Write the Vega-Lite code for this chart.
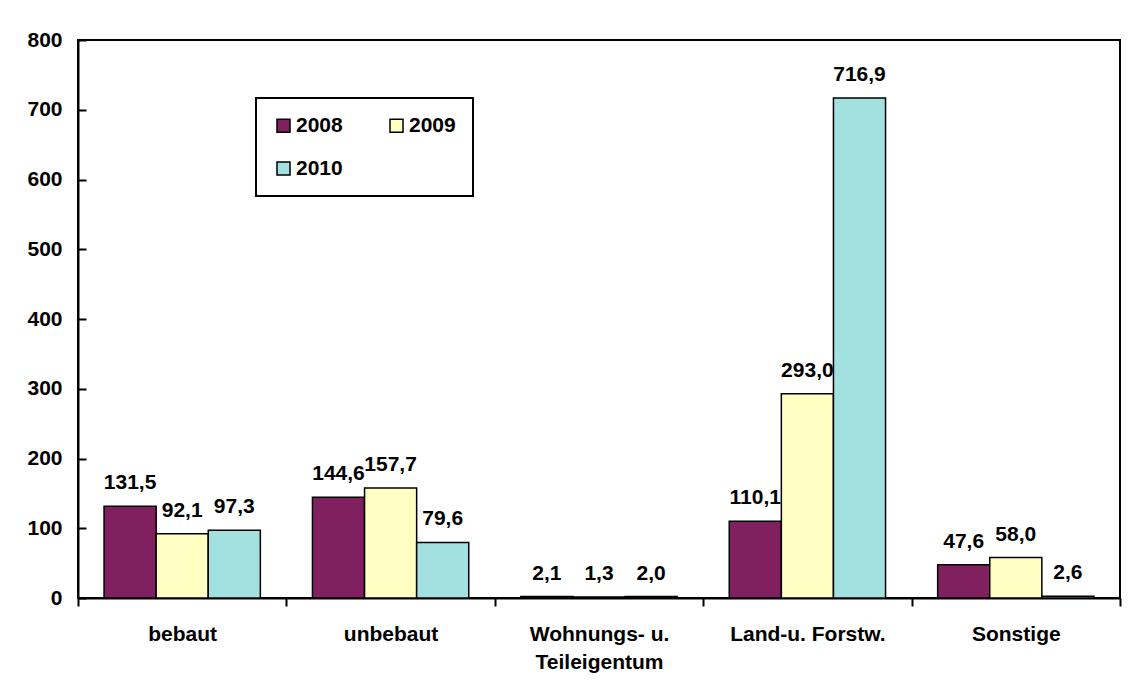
{
  "$schema": "https://vega.github.io/schema/vega-lite/v6.json",
  "autosize": {"type": "none"},
  "padding": {"left": 78, "top": 40, "right": 17, "bottom": 97},
  "width": 1042,
  "height": 558,
  "background": "white",
  "config": {
    "font": "Liberation Sans",
    "locale": {
      "number": {"decimal": ",", "thousands": ".", "grouping": [3], "currency": ["", " €"]}
    },
    "view": {"stroke": "black", "strokeWidth": 2},
    "legend": {"strokeWidth": 2}
  },
  "data": {
    "values": [
      {"kategorie": "bebaut", "jahr": "2008", "wert": 131.5},
      {"kategorie": "bebaut", "jahr": "2009", "wert": 92.1},
      {"kategorie": "bebaut", "jahr": "2010", "wert": 97.3},
      {"kategorie": "unbebaut", "jahr": "2008", "wert": 144.6},
      {"kategorie": "unbebaut", "jahr": "2009", "wert": 157.7},
      {"kategorie": "unbebaut", "jahr": "2010", "wert": 79.6},
      {"kategorie": "Wohnungs- u. Teileigentum", "jahr": "2008", "wert": 2.1},
      {"kategorie": "Wohnungs- u. Teileigentum", "jahr": "2009", "wert": 1.3},
      {"kategorie": "Wohnungs- u. Teileigentum", "jahr": "2010", "wert": 2.0},
      {"kategorie": "Land-u. Forstw.", "jahr": "2008", "wert": 110.1},
      {"kategorie": "Land-u. Forstw.", "jahr": "2009", "wert": 293.0},
      {"kategorie": "Land-u. Forstw.", "jahr": "2010", "wert": 716.9},
      {"kategorie": "Sonstige", "jahr": "2008", "wert": 47.6},
      {"kategorie": "Sonstige", "jahr": "2009", "wert": 58.0},
      {"kategorie": "Sonstige", "jahr": "2010", "wert": 2.6}
    ]
  },
  "encoding": {
    "x": {
      "field": "kategorie",
      "type": "nominal",
      "sort": null,
      "scale": {"paddingInner": 0, "paddingOuter": 0},
      "axis": {
        "title": null,
        "labelAngle": 0,
        "labelFontSize": 21,
        "labelFontWeight": "bold",
        "labelColor": "black",
        "labelPadding": 17,
        "labelLineHeight": 28,
        "labelExpr": "datum.value == 'Wohnungs- u. Teileigentum' ? ['Wohnungs- u.', 'Teileigentum'] : datum.label",
        "tickBand": "extent",
        "tickSize": 8,
        "tickWidth": 2,
        "tickColor": "black",
        "domainColor": "black",
        "domainWidth": 2
      }
    },
    "xOffset": {"field": "jahr", "type": "nominal", "scale": {"paddingInner": 0, "paddingOuter": 0.5}},
    "y": {
      "field": "wert",
      "type": "quantitative",
      "scale": {"domain": [0, 800], "nice": false},
      "axis": {
        "title": null,
        "values": [0, 100, 200, 300, 400, 500, 600, 700, 800],
        "grid": false,
        "labelFontSize": 21,
        "labelFontWeight": "bold",
        "labelColor": "black",
        "tickSize": -8,
        "labelPadding": 24,
        "tickWidth": 2,
        "tickColor": "black",
        "domainColor": "black",
        "domainWidth": 2
      }
    }
  },
  "layer": [
    {
      "mark": {"type": "bar", "stroke": "black", "strokeWidth": 1.5},
      "encoding": {
        "color": {
          "field": "jahr",
          "type": "nominal",
          "scale": {"domain": ["2008", "2009", "2010"], "range": ["#80205E", "#FFFFC4", "#A3E0E0"]},
          "legend": {
            "title": null,
            "orient": "none",
            "legendX": 178,
            "legendY": 58,
            "direction": "horizontal",
            "columns": 2,
            "columnPadding": 43,
            "rowPadding": 21,
            "padding": 17,
            "fillColor": "white",
            "strokeColor": "black",
            "symbolType": "square",
            "symbolSize": 169,
            "symbolStrokeColor": "black",
            "symbolStrokeWidth": 1.5,
            "symbolOpacity": 1,
            "labelFontSize": 21,
            "labelFontWeight": "bold",
            "labelColor": "black",
            "labelOffset": 2
          }
        }
      }
    },
    {
      "mark": {"type": "text", "fontSize": 21, "fontWeight": "bold", "color": "black", "baseline": "alphabetic", "align": "center", "dy": -17},
      "encoding": {
        "text": {"field": "wert", "type": "quantitative", "format": ".1f"}
      }
    }
  ]
}
